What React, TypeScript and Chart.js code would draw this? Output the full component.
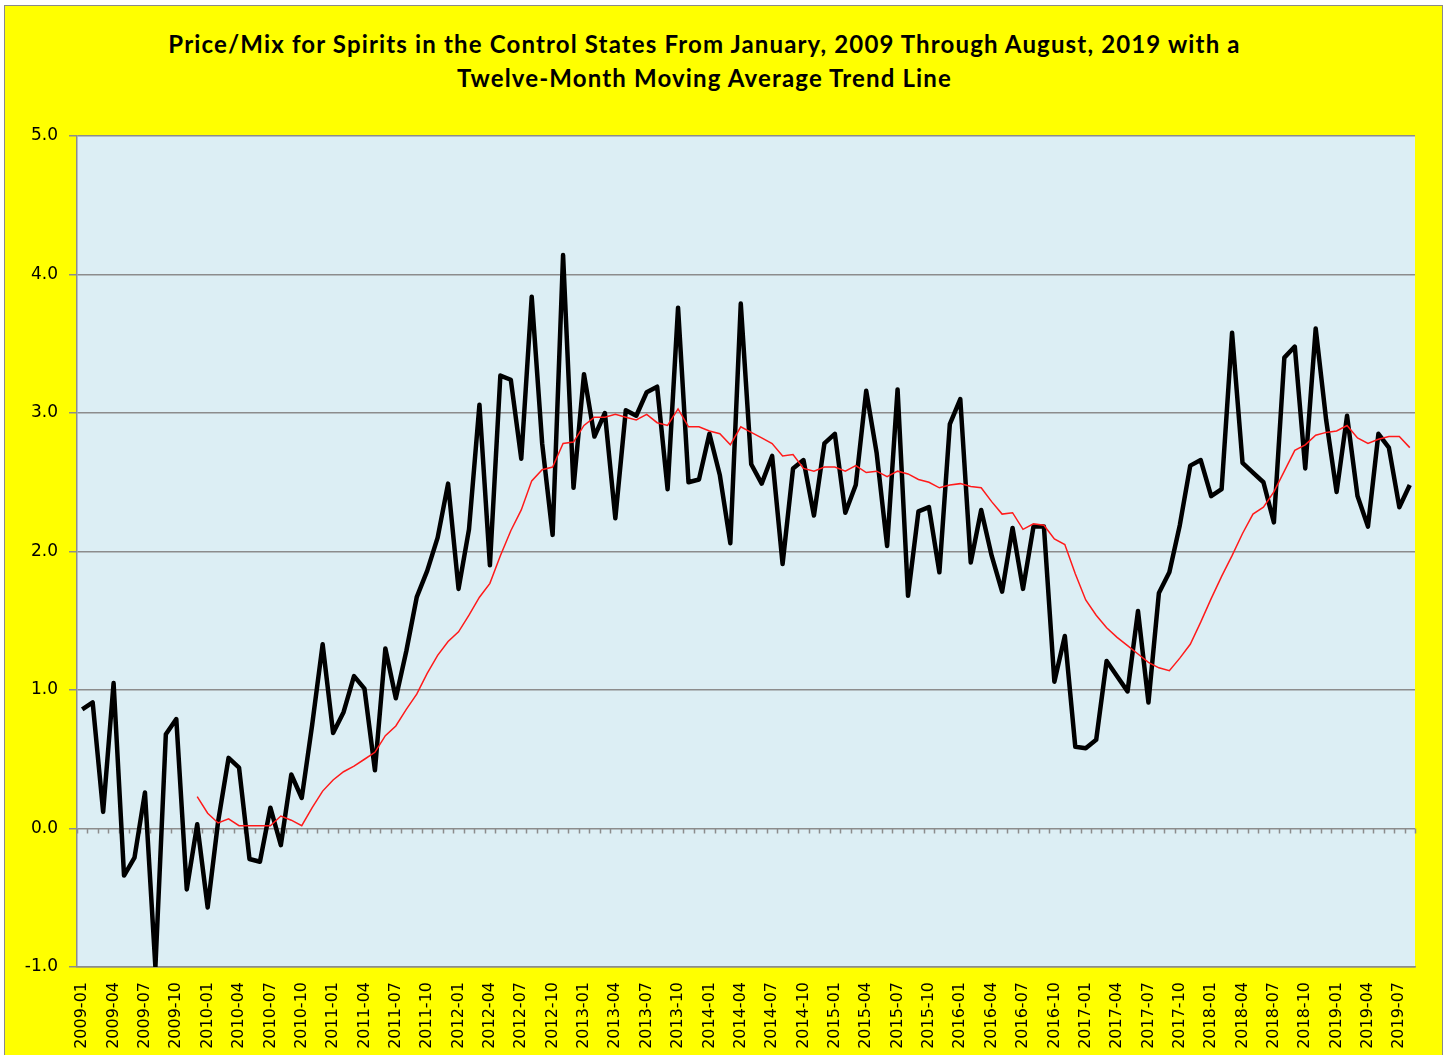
import React, { useEffect, useRef } from "react";
import { Chart, registerables } from "chart.js";

Chart.register(...registerables);

const TITLE_LINE_1 =
  "Price/Mix for Spirits in the Control States From January, 2009 Through August, 2019 with a";
const TITLE_LINE_2 = "Twelve-Month Moving Average Trend Line";

const FIRST_YEAR = 2009;
const MONTH_COUNT = 128;
const categories: string[] = [];
for (let i = 0; i < MONTH_COUNT; i++) {
  const y = FIRST_YEAR + Math.floor(i / 12);
  const m = (i % 12) + 1;
  categories.push(`${y}-${m < 10 ? "0" + m : m}`);
}

const priceMix: number[] = [
  0.86, 0.91, 0.12, 1.05, -0.34, -0.21, 0.26, -1.0, 0.68, 0.79, -0.44, 0.03,
  -0.57, 0.05, 0.51, 0.44, -0.22, -0.24, 0.15, -0.12, 0.39, 0.22, 0.75, 1.33,
  0.69, 0.84, 1.1, 1.01, 0.42, 1.3, 0.94, 1.28, 1.67, 1.86, 2.1, 2.49,
  1.73, 2.16, 3.06, 1.9, 3.27, 3.24, 2.67, 3.84, 2.78, 2.12, 4.14, 2.46,
  3.28, 2.83, 3.0, 2.24, 3.02, 2.98, 3.15, 3.19, 2.45, 3.76, 2.5, 2.52,
  2.85, 2.55, 2.06, 3.79, 2.63, 2.49, 2.69, 1.91, 2.6, 2.66, 2.26, 2.78,
  2.85, 2.28, 2.48, 3.16, 2.71, 2.04, 3.17, 1.68, 2.29, 2.32, 1.85, 2.92,
  3.1, 1.92, 2.3, 1.97, 1.71, 2.17, 1.73, 2.18, 2.18, 1.06, 1.39, 0.59,
  0.58, 0.64, 1.21, 1.1, 0.99, 1.57, 0.91, 1.7, 1.85, 2.19, 2.62, 2.66,
  2.4, 2.45, 3.58, 2.64, 2.57, 2.5, 2.21, 3.4, 3.48, 2.6, 3.61, 2.95,
  2.43, 2.98, 2.4, 2.18, 2.85, 2.75, 2.32, 2.48,
];

const movingAverage: (number | null)[] = [
  null, null, null, null, null, null, null, null, null, null, null, 0.23,
  0.11, 0.04, 0.07, 0.02, 0.02, 0.02, 0.02, 0.09, 0.06, 0.02, 0.15, 0.27,
  0.35, 0.41, 0.45, 0.5, 0.55, 0.67, 0.74, 0.86, 0.97, 1.12, 1.25, 1.35,
  1.42, 1.54, 1.67, 1.77, 1.97, 2.15, 2.3, 2.51, 2.59, 2.61, 2.78, 2.79,
  2.91, 2.97, 2.97, 2.99, 2.97, 2.95, 2.99, 2.93, 2.91, 3.03, 2.9, 2.9,
  2.87, 2.85, 2.77, 2.9, 2.86, 2.82, 2.78, 2.69, 2.7, 2.6, 2.58, 2.61,
  2.61, 2.58, 2.62, 2.57, 2.58, 2.54, 2.58, 2.56, 2.52, 2.5, 2.46, 2.48,
  2.49, 2.47, 2.46, 2.36, 2.27, 2.28, 2.16, 2.2, 2.19, 2.09, 2.05, 1.84,
  1.65, 1.54, 1.45, 1.38, 1.32, 1.26, 1.2, 1.16, 1.14, 1.23, 1.33, 1.49,
  1.66, 1.82, 1.97, 2.13, 2.27, 2.32, 2.43, 2.58, 2.73, 2.77, 2.84, 2.86,
  2.87, 2.91, 2.82, 2.78, 2.81, 2.83, 2.83, 2.75,
];

const Y_MIN = -1;
const Y_MAX = 5;
const Y_STEP = 1;
const LABEL_EVERY = 3;

const W = 1447;
const H = 1055;
const PLOT_LEFT = 77;
const PLOT_RIGHT = 1415;
const PLOT_TOP = 136;
const PLOT_BOTTOM = 967;
const GRID = "#8c8c8c";

const plotBackground = {
  id: "plotBackground",
  beforeDraw(chart: any) {
    const { ctx, chartArea } = chart;
    ctx.save();
    ctx.fillStyle = "#dceef4";
    ctx.fillRect(
      chartArea.left,
      chartArea.top,
      chartArea.right - chartArea.left,
      chartArea.bottom - chartArea.top
    );
    ctx.restore();
  },
};

const zeroLineTicks = {
  id: "zeroLineTicks",
  beforeDatasetsDraw(chart: any) {
    const { ctx, chartArea, scales } = chart;
    const y0 = scales.y.getPixelForValue(0);
    const n = chart.data.labels.length;
    const step = (chartArea.right - chartArea.left) / n;
    ctx.save();
    ctx.strokeStyle = GRID;
    ctx.lineWidth = 1.5;
    ctx.beginPath();
    for (let k = 0; k <= n; k++) {
      const x = Math.round(chartArea.left + k * step) + 0.5;
      ctx.moveTo(x, y0);
      ctx.lineTo(x, y0 + 5);
    }
    ctx.stroke();
    ctx.restore();
  },
};

export default function App() {
  const canvasRef = useRef<HTMLCanvasElement | null>(null);

  useEffect(() => {
    document.body.style.margin = "0";
    document.body.style.overflow = "hidden";
    const canvas = canvasRef.current;
    if (!canvas) return;
    const chart = new Chart(canvas, {
      type: "line",
      data: {
        labels: categories,
        datasets: [
          {
            label: "Price/Mix",
            data: priceMix,
            borderColor: "#000000",
            borderWidth: 4.5,
            pointRadius: 0,
            tension: 0,
            borderJoinStyle: "round",
            order: 2,
          },
          {
            label: "12-Month Moving Average",
            data: movingAverage,
            borderColor: "#ff1a1a",
            borderWidth: 1.5,
            pointRadius: 0,
            tension: 0,
            order: 1,
          },
        ],
      },
      options: {
        responsive: false,
        animation: false,
        devicePixelRatio: 1,
        layout: {
          padding: {
            left: 0,
            top: PLOT_TOP,
            right: W - PLOT_RIGHT,
            bottom: 0,
          },
        },
        plugins: {
          legend: { display: false },
          title: { display: false },
          tooltip: { enabled: false },
        },
        scales: {
          x: {
            type: "category",
            offset: true,
            grid: { display: false, drawTicks: false },
            border: { display: true, color: GRID, width: 1.5 },
            ticks: {
              autoSkip: false,
              maxRotation: 90,
              minRotation: 90,
              padding: 15,
              color: "#000000",
              font: { family: "DejaVu Sans", size: 16 },
              callback: (_v: any, i: number) =>
                i % LABEL_EVERY === 0 ? categories[i] : "",
            },
            afterFit: (s: any) => {
              s.height = H - PLOT_BOTTOM;
            },
          },
          y: {
            min: Y_MIN,
            max: Y_MAX,
            grid: {
              color: GRID,
              lineWidth: 1.5,
              tickLength: 8,
              drawTicks: true,
            },
            border: { display: true, color: GRID, width: 1.5 },
            ticks: {
              stepSize: Y_STEP,
              padding: 11,
              color: "#000000",
              font: { family: "DejaVu Sans", size: 17 },
              callback: (v: any) => Number(v).toFixed(1),
            },
            afterFit: (s: any) => {
              s.width = PLOT_LEFT;
            },
          },
        },
      },
      plugins: [plotBackground, zeroLineTicks],
    });
    return () => chart.destroy();
  }, []);

  return (
    <div
      style={{
        position: "relative",
        width: W,
        height: H,
        overflow: "hidden",
        background: "#ffffff",
      }}
    >
      <div
        style={{
          position: "absolute",
          left: 4,
          top: 5,
          width: 1437,
          height: H,
          background: "#ffff00",
          borderLeft: "1.5px solid #8a8a8a",
          borderTop: "1.5px solid #8a8a8a",
          borderRight: "1.5px solid #8a8a8a",
        }}
      />
      <div
        style={{
          position: "absolute",
          left: 0,
          width: 1409,
          top: 27,
          textAlign: "center",
          fontFamily: "Lato, 'Open Sans', sans-serif",
          fontWeight: 700,
          fontSize: 24,
          letterSpacing: "1.15px",
          lineHeight: "34px",
          color: "#000000",
          whiteSpace: "nowrap",
        }}
      >
        <div>{TITLE_LINE_1}</div>
        <div>{TITLE_LINE_2}</div>
      </div>
      <canvas
        ref={canvasRef}
        width={W}
        height={H}
        style={{ position: "absolute", left: 0, top: 0 }}
      />
    </div>
  );
}
